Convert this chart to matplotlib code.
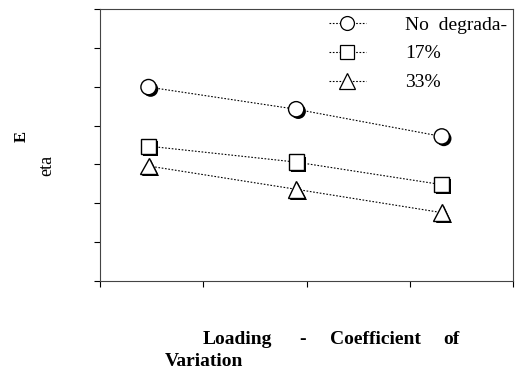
import matplotlib
matplotlib.use("Agg")
import matplotlib.pyplot as plt
import matplotlib.patheffects as pe
from matplotlib.lines import Line2D

plt.rcParams['font.family'] = ['Liberation Serif', 'DejaVu Serif']

# loading coefficient of variation (axis units) and E values per degradation level
x_vals = [0.47, 1.90, 3.31]
no_degradation = [4.99, 4.42, 3.72]
deg_17 = [3.47, 3.06, 2.48]
deg_33 = [2.96, 2.36, 1.76]

series = [
    ("No  degrada-", no_degradation, "o", 11),
    ("17%", deg_17, "s", 11),
    ("33%", deg_33, "^", 12),
]

fig = plt.figure(figsize=(5.16, 3.71), dpi=100)
ax = fig.add_axes([100 / 516, 90 / 371, 413 / 516, 272 / 371])

dots = (0, (1.5, 1.5))
shadow = [pe.SimplePatchShadow(offset=(1.5, -1.5), shadow_rgbFace='black', alpha=1.0),
          pe.Normal()]

handles = []
for label, yv, mk, ms in series:
    ax.plot(x_vals, yv, color='black', lw=0.8, linestyle=dots, zorder=2)
    ax.plot(x_vals, yv, linestyle='none', marker=mk, markersize=ms,
            markerfacecolor='white', markeredgecolor='black', markeredgewidth=1.0,
            path_effects=shadow, zorder=3)
    handles.append(Line2D([], [], color='black', lw=0.8, linestyle=dots, marker=mk,
                          markersize=ms - 1, markerfacecolor='white',
                          markeredgecolor='black', markeredgewidth=0.9, label=label))

ax.set_xlim(0, 4)
ax.set_ylim(0, 7)
ax.set_xticks(range(0, 5))
ax.set_yticks(range(0, 8))
ax.set_xticklabels([])
ax.set_yticklabels([])
ax.tick_params(direction='out', length=4, width=0.8, color='black')
for s in ax.spines.values():
    s.set_linewidth(0.8)
    s.set_color('#444444')

fig.legend(handles=handles, loc='upper left', bbox_to_anchor=(329 / 516, 1 - 16 / 371),
           frameon=False, fontsize=14, handlelength=1.9, handletextpad=2.0,
           labelspacing=0.58, borderpad=0, borderaxespad=0)

# y label: "E" and "eta" as separate rotated pieces
fig.text(22 / 516, 1 - 137 / 371, "E", rotation=90, fontsize=12, fontweight='bold',
         ha='center', va='center')
fig.text(47 / 516, 1 - 165 / 371, "eta", rotation=90, fontsize=13,
         ha='center', va='center')

# x label, justified over two lines
y1 = 1 - 340 / 371
y2 = 1 - 361 / 371
for word, xp in [("Loading", 203), ("-", 299), ("Coefficient", 330), ("of", 443)]:
    fig.text(xp / 516, y1, word, fontsize=14, fontweight='bold', ha='left', va='center')
fig.text(165 / 516, y2, "Variation", fontsize=14, fontweight='bold', ha='left', va='center')

fig.savefig("out.png", dpi=100)
